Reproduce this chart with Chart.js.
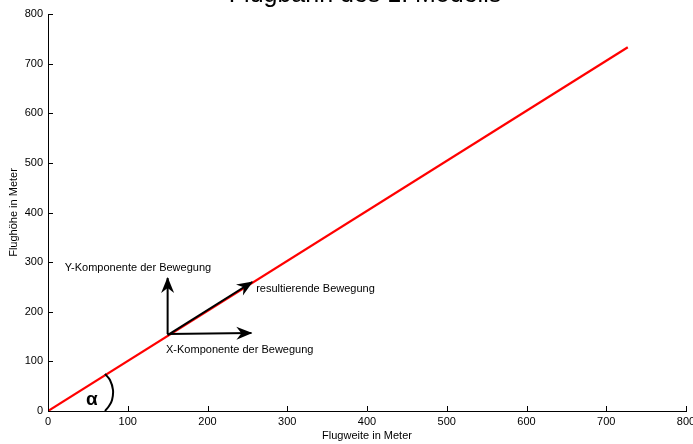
<!DOCTYPE html>
<html><head><meta charset="utf-8">
<script src="https://cdn.jsdelivr.net/npm/chart.js@4/dist/chart.umd.min.js"></script>
<style>html,body{margin:0;padding:0;background:#fff;overflow:hidden}</style>
</head><body><canvas id="c" width="693" height="444"></canvas>
<script>
const chartTitle = 'Flugbahn des 1. Modells';
const xAxisTitle = 'Flugweite in Meter';
const yAxisTitle = 'Flughöhe in Meter';
const xTickValues = [0, 100, 200, 300, 400, 500, 600, 700, 800];
const yTickValues = [0, 100, 200, 300, 400, 500, 600, 700, 800];
const flightX = [0, 727];
const flightY = [0, 733];
const resultX = [150, 256];
const resultY = [153, 260];
const compXX = [150, 255];
const compXY = [155, 157];
const compYX = [150, 150];
const compYY = [155, 268];
const arcX = [71.5, 77.7, 81.5, 80.3, 76.5, 71.5];
const arcY = [74.6, 62.5, 42.3, 22.2, 10.1, 0];
const noteTexts = ['Y-Komponente der Bewegung', 'resultierende Bewegung', 'X-Komponente der Bewegung', 'α'];
const noteX = [21, 261, 148, 55];
const noteY = [288, 246, 123, 22];

const pts = (xs, ys) => xs.map((x, i) => ({x, y: ys[i]}));
const FONT = "Arial, 'Liberation Sans', sans-serif";

const extras = {
  id: 'extras',
  afterDatasetsDraw(chart) {
    const ctx = chart.ctx, xs = chart.scales.x, ys = chart.scales.y;
    ctx.save();
    ctx.strokeStyle = '#000'; ctx.lineWidth = 1;
    const bottom = ys.getPixelForValue(0), left = xs.getPixelForValue(0);
    xs.ticks.forEach(t => {
      const px = Math.round(xs.getPixelForValue(t.value)) + 0.5;
      ctx.beginPath(); ctx.moveTo(px, bottom); ctx.lineTo(px, bottom - 5); ctx.stroke();
    });
    ys.ticks.forEach(t => {
      const py = Math.round(ys.getPixelForValue(t.value)) + 0.5;
      ctx.beginPath(); ctx.moveTo(left, py); ctx.lineTo(left + 5, py); ctx.stroke();
    });
    [1, 2, 3].forEach(di => {
      const meta = chart.getDatasetMeta(di);
      const n = meta.data.length;
      const a = meta.data[n - 2], b = meta.data[n - 1];
      const ang = Math.atan2(b.y - a.y, b.x - a.x);
      const L = 15, W = 6.5, notch = 10;
      ctx.save();
      ctx.translate(b.x, b.y); ctx.rotate(ang);
      ctx.fillStyle = '#000';
      ctx.beginPath();
      ctx.moveTo(1, 0); ctx.lineTo(-L, -W); ctx.lineTo(-notch, 0); ctx.lineTo(-L, W); ctx.closePath();
      ctx.fill();
      ctx.restore();
    });
    ctx.fillStyle = '#000';
    ctx.textBaseline = 'middle';
    noteTexts.forEach((s, i) => {
      const px = xs.getPixelForValue(noteX[i]), py = ys.getPixelForValue(noteY[i]);
      if (s === 'α') { ctx.font = 'bold 19px ' + FONT; ctx.textAlign = 'center'; }
      else { ctx.font = '11px ' + FONT; ctx.textAlign = 'left'; }
      ctx.fillText(s, px, py);
    });
    ctx.font = '25px ' + FONT; ctx.textAlign = 'center'; ctx.textBaseline = 'alphabetic';
    ctx.fillText(chartTitle, (xs.left + xs.right) / 2 - 2, 2);
    ctx.restore();
  }
};

new Chart(document.getElementById('c'), {
  type: 'line',
  data: {
    datasets: [
      {data: pts(flightX, flightY), borderColor: '#ff0000', borderWidth: 2.2, pointRadius: 0, order: 10},
      {data: pts(resultX, resultY), borderColor: '#000', borderWidth: 2, pointRadius: 0, order: 1},
      {data: pts(compXX, compXY), borderColor: '#000', borderWidth: 2, pointRadius: 0, order: 1},
      {data: pts(compYX, compYY), borderColor: '#000', borderWidth: 2, pointRadius: 0, order: 1},
      {data: pts(arcX, arcY), borderColor: '#000', borderWidth: 2, pointRadius: 0, tension: 0.4, order: 1}
    ]
  },
  options: {
    responsive: false, animation: false, devicePixelRatio: 1,
    layout: {padding: {top: 14, right: 7, left: 0, bottom: 0}},
    plugins: {legend: {display: false}, tooltip: {enabled: false}, title: {display: false}},
    scales: {
      x: {
        type: 'linear', min: 0, max: 800,
        afterBuildTicks: s => { s.ticks = xTickValues.map(v => ({value: v})); },
        afterFit: s => { s.height = 33; s.paddingLeft = 0; s.paddingRight = 0; },
        grid: {display: false, drawTicks: false}, border: {display: true, color: '#000', width: 1},
        ticks: {color: '#000', font: {family: FONT, size: 11}, padding: 4, maxRotation: 0},
        title: {display: true, text: xAxisTitle, color: '#000', font: {family: FONT, size: 11}, padding: {top: 0, bottom: 1}}
      },
      y: {
        type: 'linear', min: 0, max: 800,
        afterBuildTicks: s => { s.ticks = yTickValues.map(v => ({value: v})); },
        afterFit: s => { s.width = 48; s.paddingTop = 0; s.paddingBottom = 0; },
        grid: {display: false, drawTicks: false}, border: {display: true, color: '#000', width: 1},
        ticks: {color: '#000', font: {family: FONT, size: 11}, padding: 5},
        title: {display: true, text: yAxisTitle, color: '#000', font: {family: FONT, size: 11}, padding: {top: 7, bottom: 0}}
      }
    }
  },
  plugins: [extras]
});
</script>
</body></html>
